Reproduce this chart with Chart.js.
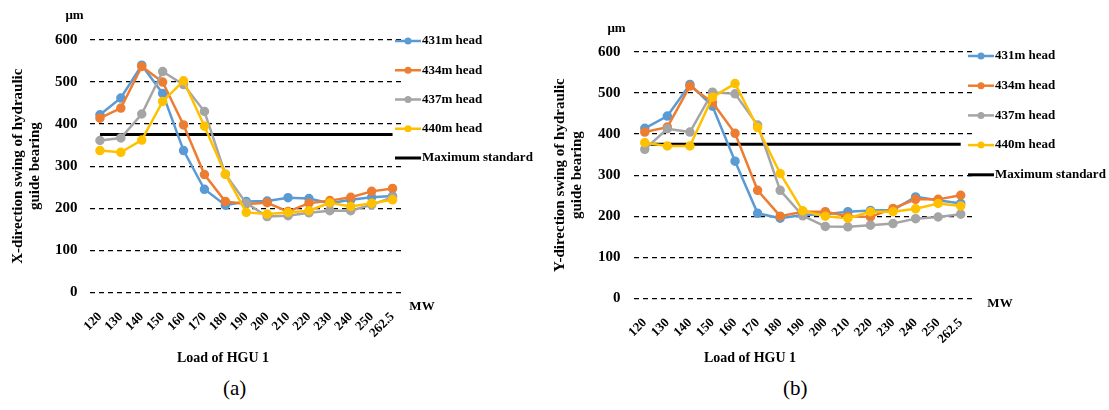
<!DOCTYPE html>
<html>
<head>
<meta charset="utf-8">
<script src="https://cdn.jsdelivr.net/npm/chart.js@4.4.0/dist/chart.umd.min.js"></script>
<style>
body { margin: 0; background: #fff; width: 1109px; height: 410px; position: relative; overflow: hidden; font-family: "Liberation Serif", serif; }
canvas { position: absolute; top: 0; }
#ca { left: 0; }
#cb { left: 545px; }
.cap { position: absolute; top: 376px; font-size: 21px; }
</style>
</head>
<body>
<canvas id="ca" width="545" height="372"></canvas>
<canvas id="cb" width="564" height="372"></canvas>
<div class="cap" style="left:223px">(a)</div>
<div class="cap" style="left:783px">(b)</div>
<script>
var loads = ['120', '130', '140', '150', '160', '170', '180', '190', '200', '210', '220', '230', '240', '250', '262.5'];
var heads = ['431m head', '434m head', '437m head', '440m head'];
var colors = ['#5B9BD5', '#ED7D31', '#A5A5A5', '#FFC000'];
var maxStandard = 375;

// X-direction swing (um)
var xSwing431 = [422, 462, 540, 473, 337, 245, 207, 216, 217, 225, 223, 212, 220, 226, 229];
var xSwing434 = [414, 438, 537, 500, 398, 280, 216, 210, 213, 192, 212, 218, 226, 240, 247];
var xSwing437 = [361, 367, 424, 525, 494, 430, 281, 212, 180, 182, 189, 194, 194, 208, 226];
var xSwing440 = [337, 333, 362, 454, 503, 395, 281, 190, 186, 190, 194, 213, 204, 212, 220];

// Y-direction swing (um)
var ySwing431 = [414, 444, 521, 468, 334, 207, 195, 203, 205, 211, 214, 215, 247, 239, 231];
var ySwing434 = [405, 417, 517, 477, 402, 263, 200, 211, 211, 200, 198, 219, 241, 241, 251];
var ySwing437 = [363, 413, 405, 502, 498, 422, 263, 201, 175, 174, 178, 182, 194, 198, 205];
var ySwing440 = [379, 371, 371, 490, 523, 416, 304, 213, 200, 195, 211, 211, 218, 231, 225];

var yTicks = [0, 100, 200, 300, 400, 500, 600];

Chart.defaults.font.family = '"Liberation Serif", serif';
Chart.defaults.font.weight = 'bold';
Chart.defaults.color = '#000';

// units, x title and legend drawn on top of the chart
var overlay = {
  id: 'overlay',
  afterDraw: function (chart, args, o) {
    var ctx = chart.ctx, a = chart.chartArea;
    ctx.save();
    ctx.fillStyle = '#000';
    ctx.textBaseline = 'middle';
    ctx.textAlign = 'center';
    ctx.font = 'bold 13px "Liberation Serif"';
    ctx.fillText('\u03bcm', a.left + o.um[0], a.top + o.um[1]);
    ctx.fillText('MW', a.right + o.mw[0], a.bottom + o.mw[1]);
    ctx.font = 'bold 14px "Liberation Serif"';
    ctx.fillText('Load of HGU 1', o.xt[0], o.xt[1]);

    ctx.textAlign = 'left';
    ctx.font = 'bold 13px "Liberation Serif"';
    chart.data.datasets.forEach(function (ds, i) {
      var x = o.legend[0], y = o.legend[1] + i * o.legend[2];
      ctx.strokeStyle = ds.borderColor;
      ctx.lineWidth = ds.borderWidth;
      ctx.beginPath();
      ctx.moveTo(x, y);
      ctx.lineTo(x + 26, y);
      ctx.stroke();
      if (ds.pointRadius) {
        ctx.fillStyle = ds.borderColor;
        ctx.beginPath();
        ctx.arc(x + 13, y, 3.5, 0, Math.PI * 2);
        ctx.fill();
      }
      ctx.fillStyle = '#000';
      ctx.fillText(ds.label, x + 27, y);
    });
    ctx.restore();
  }
};

function makeSets(series) {
  var sets = series.map(function (vals, i) {
    return {
      label: heads[i],
      data: vals,
      borderColor: colors[i],
      backgroundColor: colors[i],
      borderWidth: 2.5,
      pointRadius: 3.5,
      pointHoverRadius: 3.5,
      tension: 0,
      order: 4 - i
    };
  });
  sets.push({
    label: 'Maximum standard',
    data: loads.map(function () { return maxStandard; }),
    borderColor: '#000',
    backgroundColor: '#000',
    borderWidth: 3,
    pointRadius: 0,
    order: 10
  });
  return sets;
}

function makeChart(id, series, yTitle, pad, tickPad, extra) {
  var ctx = document.getElementById(id).getContext('2d');
  return new Chart(ctx, {
    type: 'line',
    data: { labels: loads, datasets: makeSets(series) },
    plugins: [overlay],
    options: {
      responsive: false,
      animation: false,
      layout: { padding: pad },
      plugins: {
        legend: { display: false },
        tooltip: { enabled: false },
        overlay: extra
      },
      scales: {
        x: {
          offset: true,
          grid: { display: false },
          border: { display: false },
          ticks: { autoSkip: false, minRotation: 45, maxRotation: 45, padding: 9, font: { size: 13 } }
        },
        y: {
          min: 0,
          max: 600,
          afterBuildTicks: function (s) { s.ticks = yTicks.map(function (v) { return { value: v }; }); },
          grid: { color: '#000', lineWidth: 1.2, drawTicks: false },
          border: { display: false, dash: [5, 4] },
          ticks: { padding: tickPad, font: { size: 15 } },
          title: { display: true, text: yTitle, font: { size: 15, lineHeight: 1.1 }, padding: 0 }
        }
      }
    }
  });
}

makeChart('ca', [xSwing431, xSwing434, xSwing437, xSwing440],
  ['X-direction swing of hydraulic', 'guide bearing'],
  { top: 40, left: 10, right: 142, bottom: 22 }, 12,
  { um: [-15, -24], mw: [19, 14], xt: [223, 358], legend: [395, 41, 29.25] });

makeChart('cb', [ySwing431, ySwing434, ySwing437, ySwing440],
  ['Y-direction swing of hydraulic', 'guide bearing'],
  { top: 52, left: 7, right: 137, bottom: 16 }, 13,
  { um: [-17, -23], mw: [28, 5], xt: [205, 358], legend: [423, 56, 29.7] });
</script>
</body>
</html>
